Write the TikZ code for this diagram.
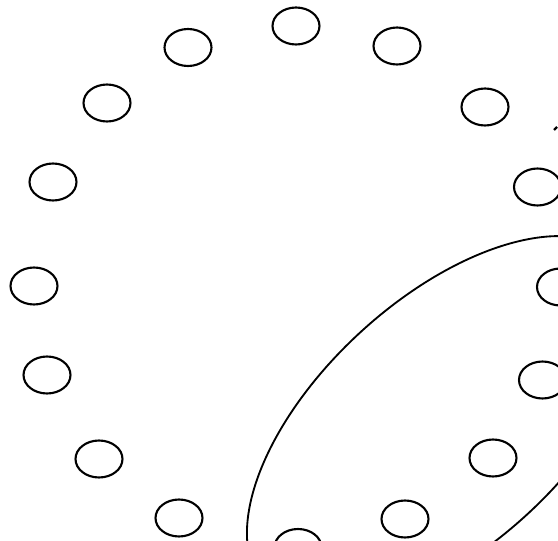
\documentclass[tikz,border=0pt]{standalone}
\usepackage{tikz}
\usetikzlibrary{shapes.geometric}
\tikzset{
  ring/.style={draw=black, line width=1.2pt, ellipse, minimum width=0.94cm, minimum height=0.74cm, inner sep=0pt},
  group/.style={draw=black, line width=1.05pt, ellipse, inner sep=0pt, minimum width=9.68cm, minimum height=4.94cm},
  tick/.style={draw=black, line width=1.4pt},
}
\begin{document}
\begin{tikzpicture}[x=0.02cm,y=0.02cm]
  \useasboundingbox (0,0) rectangle (558,541);
  \clip (0,0) rectangle (558,541);
  \foreach \n/\x/\y in {0/296/515, 1/397/495, 2/485/434, 3/537.5/354, 4/560.5/254,
      5/542.5/161, 6/493/83, 7/405/22, 8/298/-6.5, 9/179/23, 10/99/82,
      11/47/166, 12/34/255, 13/53/359, 14/107/438, 15/188/493.5} {
    \node[ring] (v\n) at (\x,\y) {};
  }
  \node[group, rotate=42.6] (grp) at (443.7,117.6) {};
  \coordinate (t0) at (554,411);
  \coordinate (t1) at (557,414);
  \draw[tick] (t0) -- (t1);
\end{tikzpicture}
\end{document}
